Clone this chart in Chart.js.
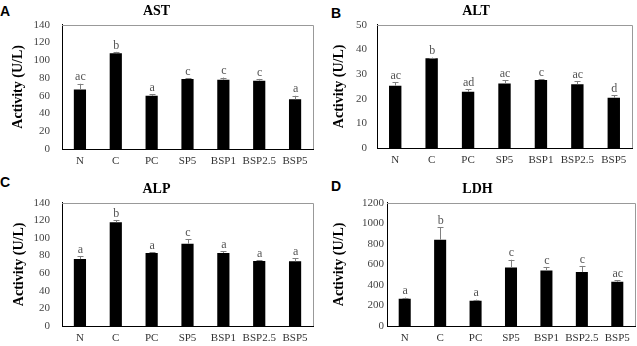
<!DOCTYPE html>
<html>
<head>
<meta charset="utf-8">
<script src="https://cdn.jsdelivr.net/npm/chart.js@4.4.1/dist/chart.umd.min.js"></script>
<style>
  html, body { margin: 0; padding: 0; background: #fff; }
  body { width: 637px; height: 346px; position: relative; overflow: hidden; }
  .panel { position: absolute; }
  .tag { position: absolute; font-family: 'Liberation Sans', Arial, sans-serif; font-weight: bold; font-size: 14px; color: #000; line-height: 1; }
</style>
</head>
<body>
<div class="tag" style="left:0px;top:4px;">A</div>
<div class="tag" style="left:331px;top:6px;">B</div>
<div class="tag" style="left:0px;top:175px;">C</div>
<div class="tag" style="left:331px;top:179px;">D</div>
<div class="panel" style="left:0;top:0;width:320px;height:173px;"><canvas id="cA" width="320" height="173"></canvas></div>
<div class="panel" style="left:320px;top:0;width:317px;height:173px;"><canvas id="cB" width="317" height="173"></canvas></div>
<div class="panel" style="left:0;top:173px;width:320px;height:173px;"><canvas id="cC" width="320" height="173"></canvas></div>
<div class="panel" style="left:320px;top:173px;width:317px;height:173px;"><canvas id="cD" width="317" height="173"></canvas></div>
<script>
const categories = ['N', 'C', 'PC', 'SP5', 'BSP1', 'BSP2.5', 'BSP5'];

const astValues  = [67, 108, 60, 79, 78, 77, 56];
const astErrors  = [6.5, 1.5, 2, 0.5, 2.5, 2, 4];
const astLetters = ['ac', 'b', 'a', 'c', 'c', 'c', 'a'];
const astTicks   = [0, 20, 40, 60, 80, 100, 120, 140];

const altValues  = [25.3, 36.4, 22.8, 26.2, 27.6, 25.9, 20.4];
const altErrors  = [1.4, 0.3, 1.1, 1.3, 0.3, 1.3, 1.0];
const altLetters = ['ac', 'b', 'ad', 'ac', 'c', 'ac', 'd'];
const altTicks   = [0, 10, 20, 30, 40, 50];

const alpValues  = [76, 118, 83, 93.5, 83, 74, 73.5];
const alpErrors  = [3.5, 2.5, 1, 5, 2, 1, 3.5];
const alpLetters = ['a', 'b', 'a', 'c', 'a', 'a', 'a'];
const alpTicks   = [0, 20, 40, 60, 80, 100, 120, 140];

const ldhValues  = [265, 840, 245, 570, 540, 525, 430];
const ldhErrors  = [12, 120, 12, 75, 35, 60, 15];
const ldhLetters = ['a', 'b', 'a', 'c', 'c', 'c', 'ac'];
const ldhTicks   = [0, 200, 400, 600, 800, 1000, 1200];

const SERIF = "'Liberation Serif', 'Times New Roman', serif";

const errorLetterPlugin = {
  id: 'errorLetter',
  afterDatasetsDraw(chart) {
    const ctx = chart.ctx;
    const yScale = chart.scales.y;
    const ds = chart.data.datasets[0];
    const meta = chart.getDatasetMeta(0);
    ctx.save();
    meta.data.forEach((bar, i) => {
      const v = ds.data[i];
      const e = ds.errors[i];
      const yTop = yScale.getPixelForValue(v);
      const yErr = yScale.getPixelForValue(v + e);
      ctx.strokeStyle = '#808080';
      ctx.lineWidth = 1;
      ctx.beginPath();
      ctx.moveTo(Math.round(bar.x) + 0.5, yTop);
      ctx.lineTo(Math.round(bar.x) + 0.5, yErr);
      ctx.moveTo(Math.round(bar.x) - 2.5, Math.round(yErr) + 0.5);
      ctx.lineTo(Math.round(bar.x) + 3.5, Math.round(yErr) + 0.5);
      ctx.stroke();
      ctx.fillStyle = '#555';
      ctx.font = '12px ' + SERIF;
      ctx.textAlign = 'center';
      ctx.textBaseline = 'bottom';
      ctx.fillText(ds.letters[i], bar.x + 0.5, yErr - 0.5);
    });
    // frame top and right
    const a = chart.chartArea;
    ctx.strokeStyle = '#999';
    ctx.lineWidth = 1;
    ctx.beginPath();
    ctx.moveTo(a.left, Math.round(a.top) + 0.5);
    ctx.lineTo(Math.round(a.right) + 0.5, Math.round(a.top) + 0.5);
    ctx.lineTo(Math.round(a.right) + 0.5, a.bottom);
    ctx.stroke();
    ctx.restore();
  }
};

function makeChart(id, title, values, errors, letters, ticks, geom) {
  const tickMax = ticks[ticks.length - 1];
  const step = ticks[1] - ticks[0];
  return new Chart(document.getElementById(id), {
    type: 'bar',
    data: {
      labels: categories,
      datasets: [{
        data: values,
        errors: errors,
        letters: letters,
        backgroundColor: '#000',
        borderWidth: 0,
        barPercentage: 0.34,
        categoryPercentage: 1.0
      }]
    },
    options: {
      responsive: false,
      animation: false,
      devicePixelRatio: 1,
      layout: { padding: { left: 0, right: geom.right, top: 0, bottom: 0 } },
      plugins: {
        legend: { display: false },
        tooltip: { enabled: false },
        title: {
          display: true,
          text: title,
          color: '#000',
          font: { family: SERIF, size: 14, weight: 'bold' },
          padding: { top: geom.titleTop, bottom: geom.titleBottom }
        }
      },
      scales: {
        x: {
          grid: { display: false, drawTicks: false },
          border: { display: true, color: '#000', width: 1 },
          ticks: { color: '#333', font: { family: SERIF, size: 11 }, padding: geom.xPad, maxRotation: 0, autoSkip: false },
          afterFit(scale) { scale.height = geom.xHeight; }
        },
        y: {
          min: 0,
          max: tickMax,
          grid: { display: false, drawTicks: false },
          border: { display: true, color: '#000', width: 1 },
          ticks: { stepSize: step, color: '#444', font: { family: SERIF, size: 11 }, padding: geom.yPad,
                   callback: (value) => String(value) },
          title: {
            display: true,
            text: 'Activity (U/L)',
            color: '#000',
            font: { family: SERIF, size: 14, weight: 'bold' },
            padding: { top: geom.yTitlePad, bottom: 0 }
          },
          afterFit(scale) { scale.width = geom.yWidth; }
        }
      }
    },
    plugins: [errorLetterPlugin]
  });
}

makeChart('cA', 'AST', astValues, astErrors, astLetters, astTicks,
  { right: 7, titleTop: 3, titleBottom: 5, xPad: 6, xHeight: 24, yPad: 12, yWidth: 62, yTitlePad: 10 });
makeChart('cB', 'ALT', altValues, altErrors, altLetters, altTicks,
  { right: 5, titleTop: 3, titleBottom: 5, xPad: 6, xHeight: 25, yPad: 10, yWidth: 57, yTitlePad: 11 });
makeChart('cC', 'ALP', alpValues, alpErrors, alpLetters, alpTicks,
  { right: 7, titleTop: 8, titleBottom: 5, xPad: 6, xHeight: 20, yPad: 12, yWidth: 62, yTitlePad: 11 });
makeChart('cD', 'LDH', ldhValues, ldhErrors, ldhLetters, ldhTicks,
  { right: 2, titleTop: 8, titleBottom: 5, xPad: 6, xHeight: 20, yPad: 3, yWidth: 67, yTitlePad: 11 });
</script>
</body>
</html>
